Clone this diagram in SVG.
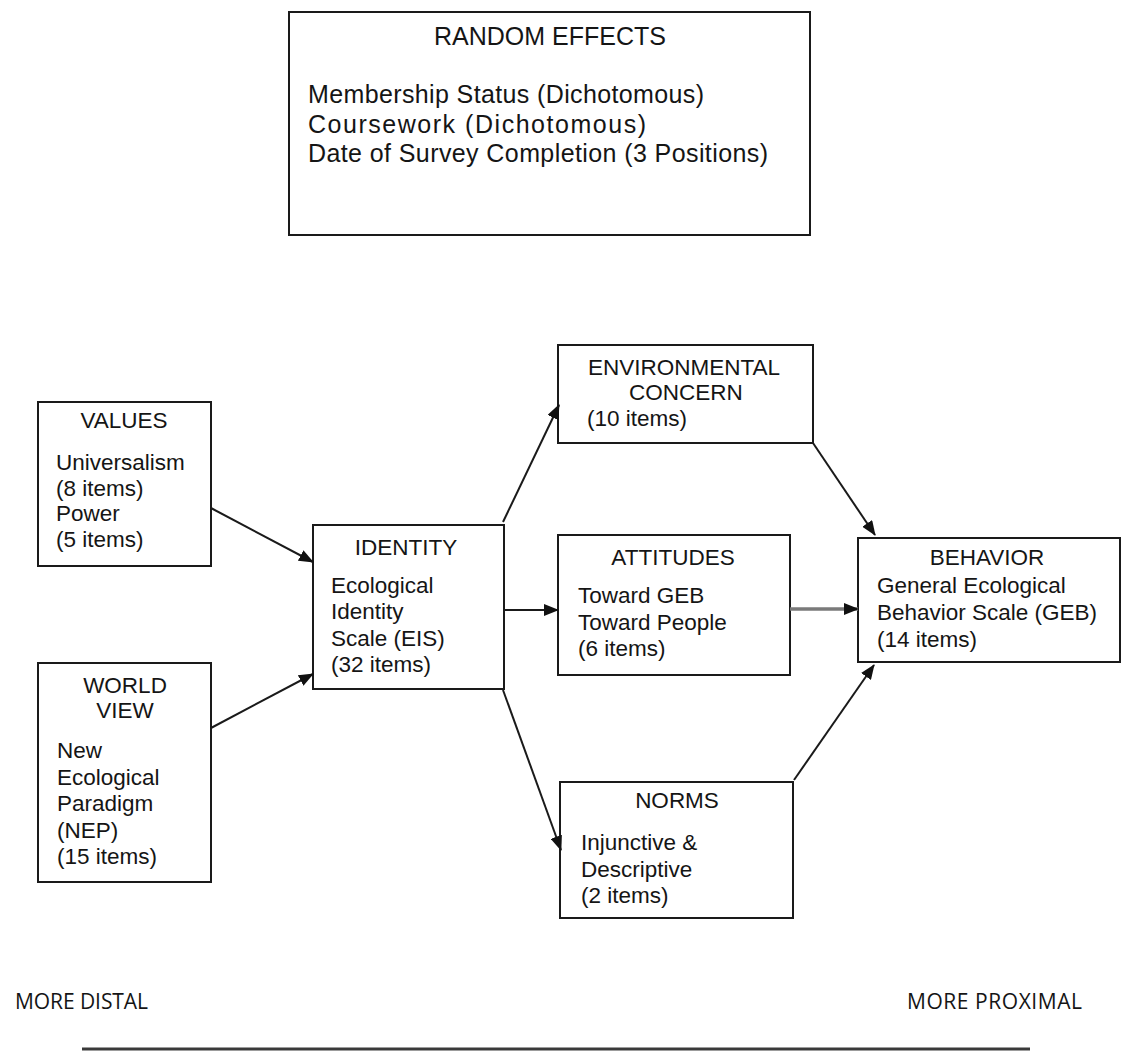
<svg xmlns="http://www.w3.org/2000/svg" width="1127" height="1057" viewBox="0 0 1127 1057">
  <style>
    .box { fill: #ffffff; stroke: #1a1a1a; stroke-width: 2; }
    .t { font-family: "Liberation Sans", Arial, sans-serif; font-size: 22.5px; fill: #151515; }
    .c { text-anchor: middle; }
    .big { font-size: 25px; }
    .axis { font-family: "Open Sans", "Liberation Sans", sans-serif; font-size: 21px; fill: #151515; }
    .edge { fill: none; stroke: #1a1a1a; stroke-width: 2; marker-end: url(#arrow); }
    .edge-gray { fill: none; stroke: #7a7a7a; stroke-width: 3.5; marker-end: url(#arrow); }
  </style>
  <defs>
    <marker id="arrow" markerUnits="userSpaceOnUse" markerWidth="15" markerHeight="12" viewBox="0 0 15 12" refX="14" refY="6" orient="auto">
      <path d="M0,0 L15,6 L0,12 Z" fill="#111111"/>
    </marker>
  </defs>

  <rect width="1127" height="1057" fill="#ffffff"/>

  <!-- random effects block -->
  <g id="random-effects">
    <rect class="box" x="289" y="12" width="521" height="223"/>
    <text class="t big c" x="550" y="45">RANDOM EFFECTS</text>
    <text class="t big" x="308" y="103" textLength="396">Membership Status (Dichotomous)</text>
    <text class="t big" x="308" y="133" textLength="338">Coursework (Dichotomous)</text>
    <text class="t big" x="308" y="162" textLength="460">Date of Survey Completion (3 Positions)</text>
  </g>

  <!-- model nodes -->
  <g id="values">
    <rect class="box" x="38" y="402" width="173" height="164"/>
    <text class="t c" x="124" y="428">VALUES</text>
    <text class="t" x="56" y="470">Universalism</text>
    <text class="t" x="56" y="496">(8 items)</text>
    <text class="t" x="56" y="521">Power</text>
    <text class="t" x="56" y="547">(5 items)</text>
  </g>

  <g id="world-view">
    <rect class="box" x="38" y="663" width="173" height="219"/>
    <text class="t c" x="125" y="693">WORLD</text>
    <text class="t c" x="125" y="718">VIEW</text>
    <text class="t" x="57" y="758">New</text>
    <text class="t" x="57" y="785">Ecological</text>
    <text class="t" x="57" y="811">Paradigm</text>
    <text class="t" x="57" y="838">(NEP)</text>
    <text class="t" x="57" y="864">(15 items)</text>
  </g>

  <g id="identity">
    <rect class="box" x="313" y="525" width="191" height="164"/>
    <text class="t c" x="406" y="555">IDENTITY</text>
    <text class="t" x="331" y="593">Ecological</text>
    <text class="t" x="331" y="619">Identity</text>
    <text class="t" x="331" y="646">Scale (EIS)</text>
    <text class="t" x="331" y="672">(32 items)</text>
  </g>

  <g id="environmental-concern">
    <rect class="box" x="558" y="345" width="255" height="98"/>
    <text class="t c" x="684" y="375">ENVIRONMENTAL</text>
    <text class="t c" x="686" y="400">CONCERN</text>
    <text class="t" x="587" y="426">(10 items)</text>
  </g>

  <g id="attitudes">
    <rect class="box" x="558" y="535" width="232" height="140"/>
    <text class="t c" x="673" y="565">ATTITUDES</text>
    <text class="t" x="578" y="603">Toward GEB</text>
    <text class="t" x="578" y="630">Toward People</text>
    <text class="t" x="578" y="656">(6 items)</text>
  </g>

  <g id="behavior">
    <rect class="box" x="858" y="538" width="262" height="124"/>
    <text class="t c" x="987" y="565">BEHAVIOR</text>
    <text class="t" x="877" y="593">General Ecological</text>
    <text class="t" x="877" y="620">Behavior Scale (GEB)</text>
    <text class="t" x="877" y="647">(14 items)</text>
  </g>

  <g id="norms">
    <rect class="box" x="560" y="782" width="233" height="136"/>
    <text class="t c" x="677" y="808">NORMS</text>
    <text class="t" x="581" y="850">Injunctive &amp;</text>
    <text class="t" x="581" y="877">Descriptive</text>
    <text class="t" x="581" y="903">(2 items)</text>
  </g>

  <!-- connectors -->
  <g id="connectors">
    <line class="edge" x1="211" y1="508" x2="313" y2="562"/>
    <line class="edge" x1="211" y1="728" x2="313" y2="674"/>
    <line class="edge" x1="503" y1="522" x2="559" y2="405"/>
    <line class="edge" x1="813" y1="443" x2="875" y2="535"/>
    <line class="edge" x1="504" y1="610" x2="558" y2="610"/>
    <line class="edge-gray" x1="790" y1="609" x2="858" y2="609"/>
    <line class="edge" x1="503" y1="690" x2="561" y2="850"/>
    <line class="edge" x1="794" y1="780" x2="874" y2="665"/>
  </g>

  <!-- distal / proximal axis -->
  <g id="axis">
    <text class="axis" x="15" y="1009" textLength="133">MORE DISTAL</text>
    <text class="axis" x="907" y="1009" textLength="175">MORE PROXIMAL</text>
    <line x1="82" y1="1049" x2="1030" y2="1049" stroke="#3a3a3a" stroke-width="3"/>
  </g>
</svg>
